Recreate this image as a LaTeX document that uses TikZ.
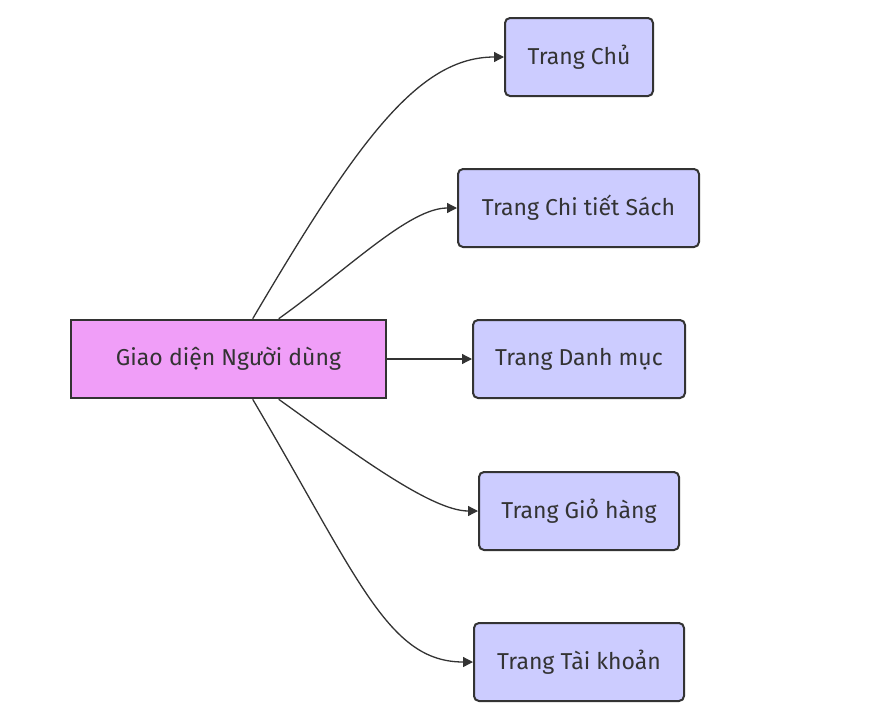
\documentclass[tikz,border=0pt]{standalone}
\usepackage{fontspec}
\setmainfont{Fira Sans}
\usetikzlibrary{arrows.meta}
\definecolor{ink}{HTML}{333333}
\definecolor{pinkf}{HTML}{F09EF8}
\definecolor{bluef}{HTML}{CCCCFF}
\tikzset{
  mainbox/.style={draw=ink, line width=2.6pt, fill=pinkf, text=ink, minimum width=315pt, minimum height=78pt, inner sep=0pt, font=\fontsize{23}{27}\selectfont},
  pagebox/.style={draw=ink, line width=2pt, fill=bluef, text=ink, rounded corners=5pt, minimum height=78pt, inner sep=0pt, font=\fontsize{23}{27}\selectfont},
  link/.style={draw=ink, line width=1.3pt, -{Triangle[length=10pt,width=10pt]}}
}
\begin{document}
\begin{tikzpicture}[x=1pt,y=-1pt]
\useasboundingbox (0,0) rectangle (872,718);
\node[mainbox] (main) at (228.5,359) {Giao diện Người dùng};
\node[pagebox, minimum width=148pt] (p1) at (579,57) {Trang Chủ};
\node[pagebox, minimum width=241pt] (p2) at (578.5,208) {Trang Chi tiết Sách};
\node[pagebox, minimum width=212pt] (p3) at (579,359) {Trang Danh mục};
\node[pagebox, minimum width=200pt] (p4) at (579,511) {Trang Giỏ hàng};
\node[pagebox, minimum width=210pt] (p5) at (579,662) {Trang Tài khoản};
\coordinate (s1) at ([xshift=183pt]main.north west);
\coordinate (s2) at ([xshift=209pt]main.north west);
\coordinate (s4) at ([xshift=209pt]main.south west);
\coordinate (s5) at ([xshift=183pt]main.south west);
\draw[link] (s1) .. controls ([shift={(106,-180)}]s1) and ([xshift=-85pt]p1.west) .. (p1.west);
\draw[link] (s2) .. controls ([shift={(70,-50)}]s2) and ([xshift=-48pt]p2.west) .. (p2.west);
\draw[link] (main.east) -- (p3.west);
\draw[link] (s4) .. controls ([shift={(70,50)}]s4) and ([xshift=-48pt]p4.west) .. (p4.west);
\draw[link] (s5) .. controls ([shift={(106,180)}]s5) and ([xshift=-85pt]p5.west) .. (p5.west);
\end{tikzpicture}
\end{document}
